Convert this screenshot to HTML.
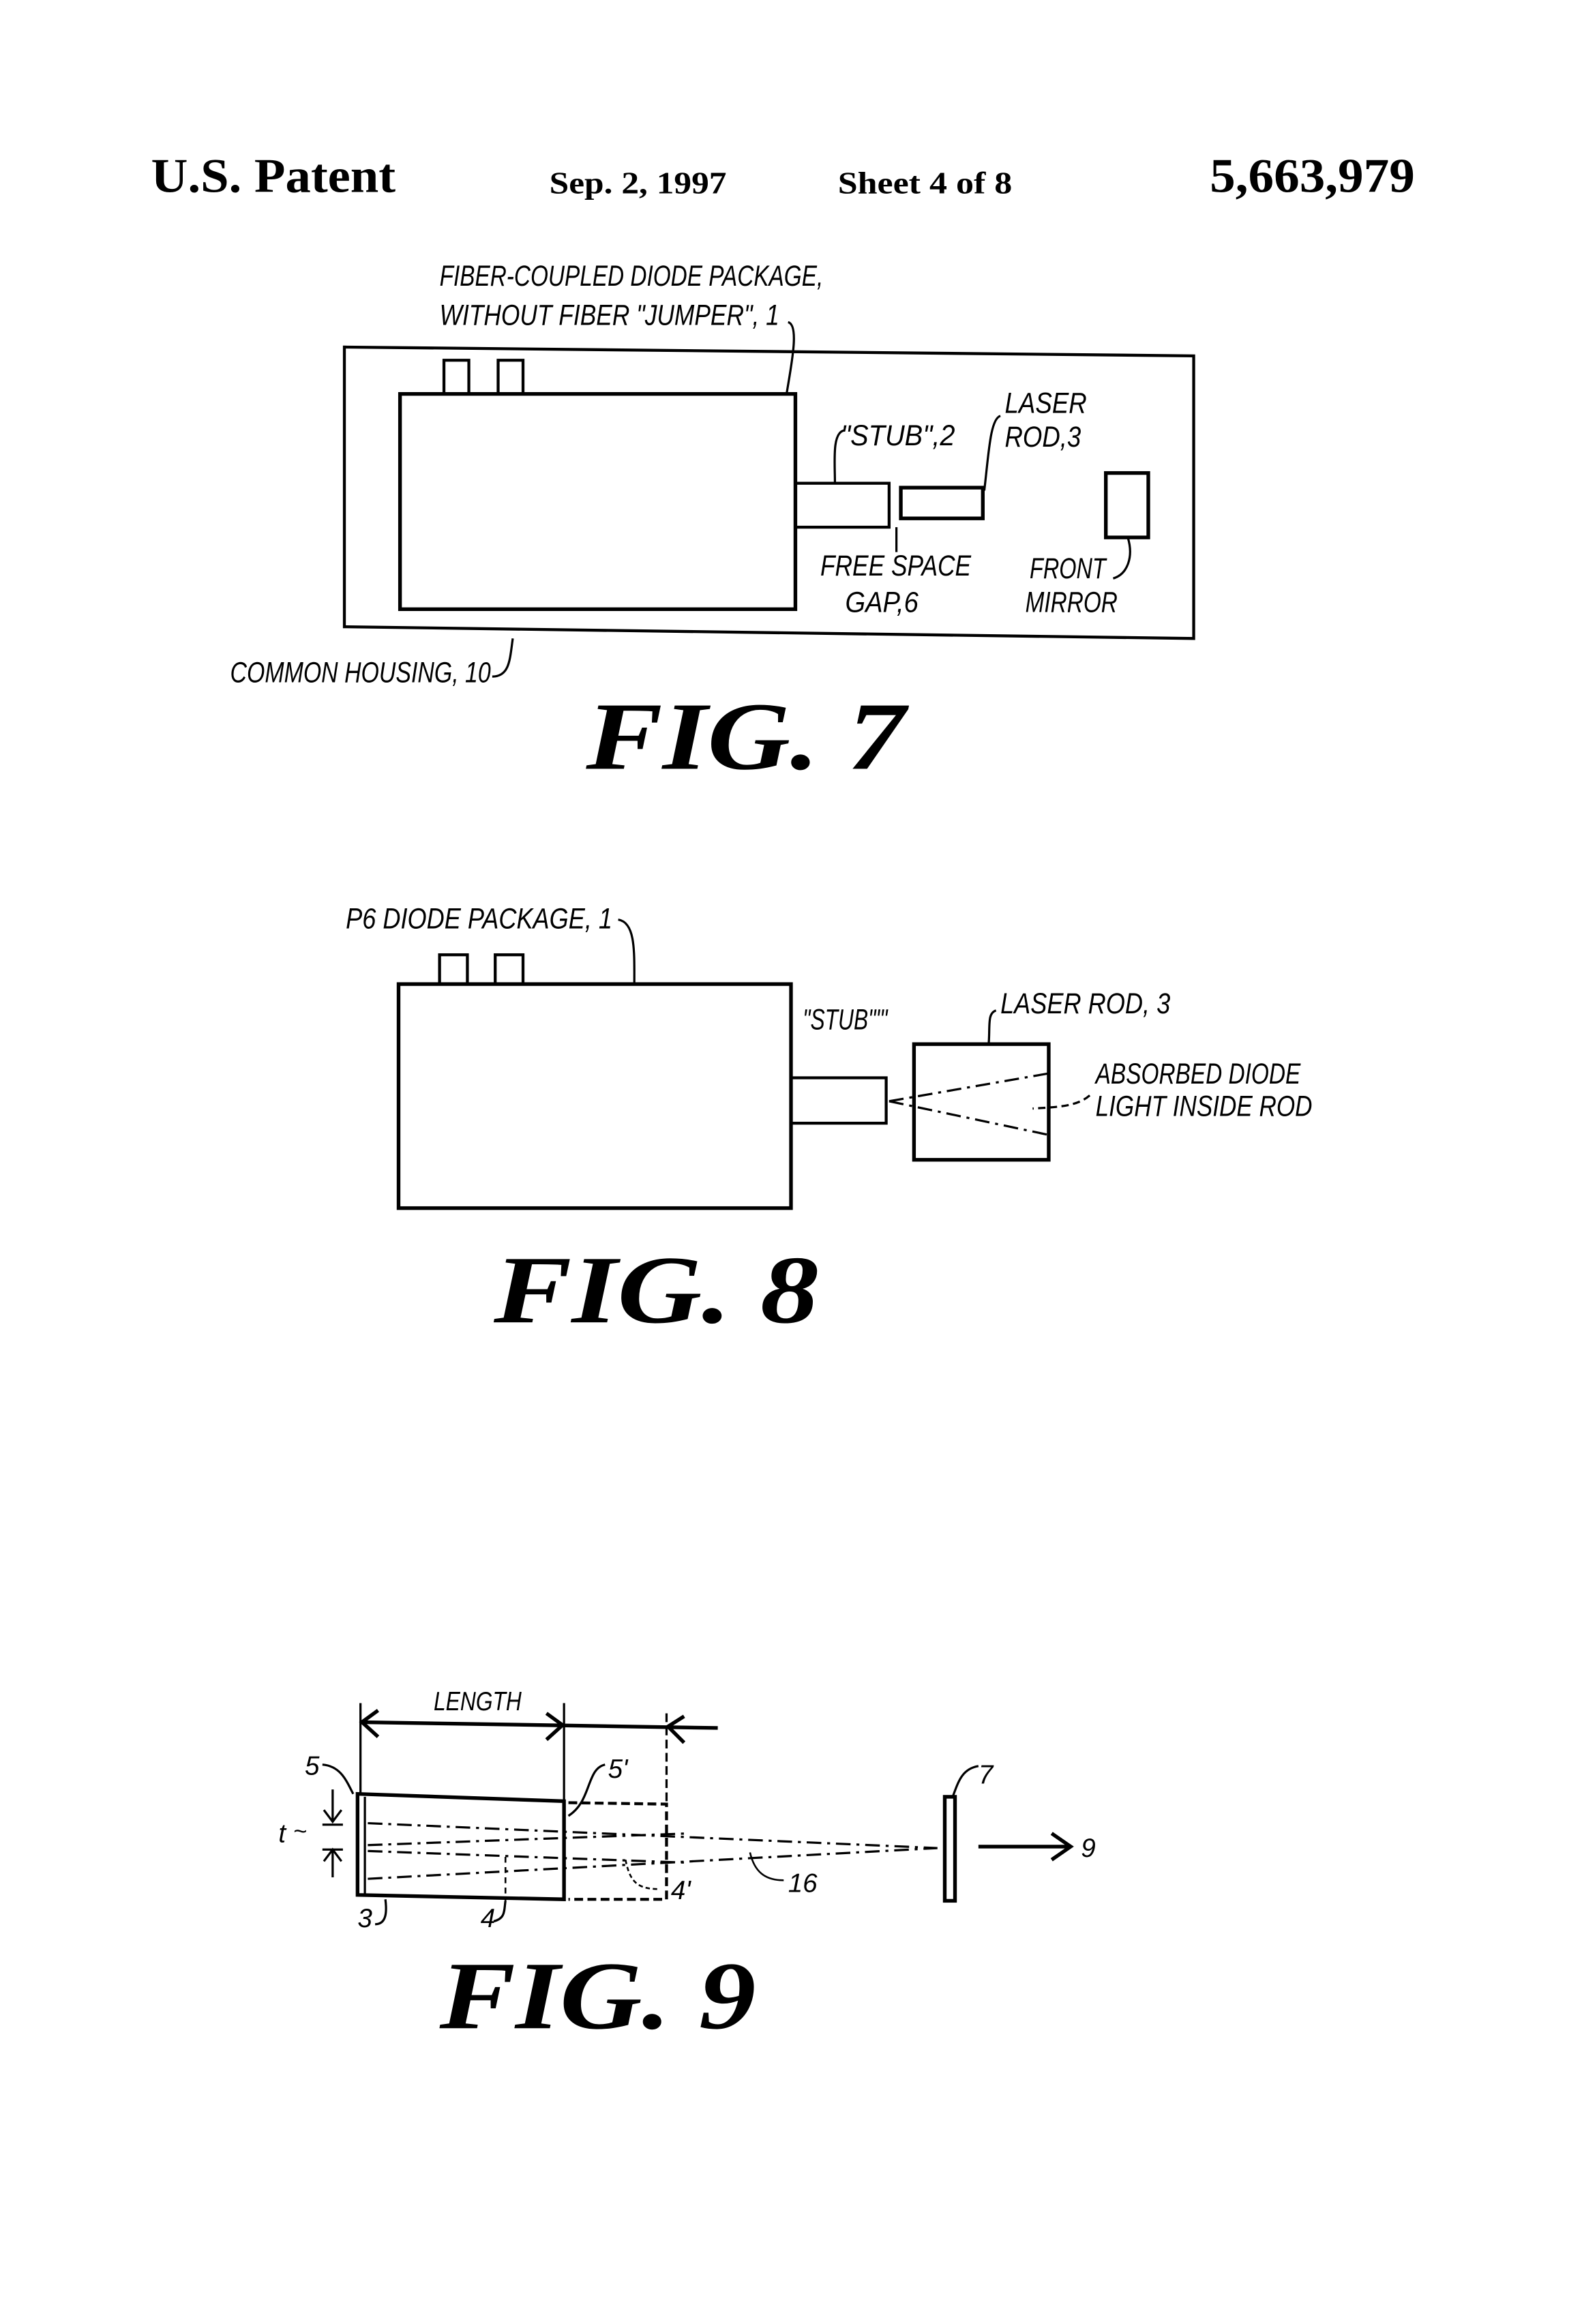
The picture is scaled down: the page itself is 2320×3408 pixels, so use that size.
<!DOCTYPE html>
<html><head><meta charset="utf-8"><style>html,body{margin:0;padding:0;background:#fff}svg{display:block}</style></head>
<body>
<svg width="2320" height="3408" viewBox="0 0 1080 1587" xmlns="http://www.w3.org/2000/svg">
<rect width="1080" height="1587" fill="#fff"/>
<g font-family="Liberation Serif, serif" font-weight="bold" fill="#000">
<text x="103" y="131" font-size="33" textLength="167" lengthAdjust="spacingAndGlyphs">U.S. Patent</text>
<text x="375" y="132" font-size="21" textLength="121" lengthAdjust="spacingAndGlyphs">Sep. 2, 1997</text>
<text x="572" y="132" font-size="21" textLength="119" lengthAdjust="spacingAndGlyphs">Sheet 4 of 8</text>
<text x="826" y="131" font-size="33" textLength="140" lengthAdjust="spacingAndGlyphs">5,663,979</text>
</g>
<g fill="none" stroke="#000" stroke-width="2">
<!-- FIG 7 -->
<path d="M235,237 L815,243 L815,436 L235,428 Z"/>
<rect x="303" y="246" width="17" height="23"/>
<rect x="340" y="246" width="17" height="23"/>
<rect x="273" y="269" width="270" height="147" stroke-width="2.5"/>
<rect x="543" y="330" width="64" height="30"/>
<rect x="615" y="333" width="56" height="21" stroke-width="2.5"/>
<rect x="755" y="323" width="29" height="44" stroke-width="2.5"/>
<path d="M538,220 C546,222 540,250 537,269" stroke-width="1.5"/>
<path d="M683,284 C676,286 675,310 672,335" stroke-width="1.5"/>
<path d="M576,294 C568,296 570,315 570,330" stroke-width="1.5"/>
<path d="M612,360 L612,377" stroke-width="1.5"/>
<path d="M770,367 C774,380 770,392 760,395" stroke-width="1.5"/>
<path d="M336,462 C348,462 348,450 350,436" stroke-width="1.5"/>
<!-- FIG 8 -->
<rect x="300" y="652" width="19" height="20"/>
<rect x="338" y="652" width="19" height="20"/>
<rect x="272" y="672" width="268" height="153" stroke-width="2.5"/>
<rect x="540" y="736" width="65" height="31"/>
<rect x="624" y="713" width="92" height="79" stroke-width="2.5"/>
<path d="M422,628 C434,630 433,650 433,673" stroke-width="1.5"/>
<path d="M680,690 C674,692 676,700 675,713" stroke-width="1.5"/>
<path d="M607,752 L716,733 M607,752 L716,775" stroke-width="1.5" stroke-dasharray="10,4,2,4"/>
<path d="M744,748 C735,756 720,756 705,757" stroke-width="1.5" stroke-dasharray="5,3"/>
<!-- FIG 9 -->
<path d="M246,1163 L246,1226 M385,1163 L385,1230" stroke-width="1.5"/>
<path d="M455,1170 L455,1232" stroke-width="1.5" stroke-dasharray="6,3"/>
<path d="M246,1176 L490,1180" stroke-width="2.5"/>
<path d="M258,1168 L247,1176 L258,1186 M373,1170 L384,1178 L373,1188 M467,1172 L456,1179 L467,1190" stroke-width="2.5"/>
<path d="M244,1225 L385,1230 L385,1297 L244,1294 Z" stroke-width="2.5"/>
<path d="M249,1227 L249,1295" stroke-width="1.5"/>
<path d="M388,1231 L455,1232 L455,1297 L388,1297" stroke-width="2" stroke-dasharray="6,3"/>
<path d="M251,1245 L640,1262 M251,1283 L640,1262 M251,1260 L470,1252 M251,1264 L470,1272" stroke-width="1.5" stroke-dasharray="10,4,2,4"/>
<path d="M345,1268 L345,1298" stroke-width="1.2" stroke-dasharray="4,3"/>
<rect x="645" y="1227" width="7" height="71" stroke-width="2.5"/>
<path d="M668,1261 L730,1261 M718,1252 L731,1261 L718,1270" stroke-width="2.5"/>
<path d="M227,1222 L227,1243 M221,1236 L227,1244 L233,1236 M220,1246 L234,1246 M220,1263 L234,1263 M227,1282 L227,1264 M221,1271 L227,1263 L233,1271" stroke-width="1.5"/>
<path d="M220,1205 C232,1206 236,1215 241,1225" stroke-width="1.5"/>
<path d="M413,1205 C400,1208 404,1230 388,1240" stroke-width="1.5"/>
<path d="M668,1206 C656,1208 654,1218 650,1228" stroke-width="1.5"/>
<path d="M256,1314 C264,1314 264,1305 263,1297" stroke-width="1.5"/>
<path d="M337,1312 C345,1310 344,1305 345,1298" stroke-width="1.5"/>
<path d="M427,1270 C430,1285 435,1290 450,1290" stroke-width="1.2" stroke-dasharray="3,2"/>
<path d="M512,1265 C515,1278 522,1284 535,1284" stroke-width="1.2"/>
</g>
<g font-family="Liberation Sans, sans-serif" font-style="italic" fill="#000" font-size="20">
<text x="300" y="195" textLength="262" lengthAdjust="spacingAndGlyphs">FIBER-COUPLED DIODE PACKAGE,</text>
<text x="300" y="222" textLength="232" lengthAdjust="spacingAndGlyphs">WITHOUT FIBER "JUMPER", 1</text>
<text x="686" y="282" textLength="56" lengthAdjust="spacingAndGlyphs">LASER</text>
<text x="686" y="305" textLength="52" lengthAdjust="spacingAndGlyphs">ROD,3</text>
<text x="574" y="304" textLength="78" lengthAdjust="spacingAndGlyphs">"STUB",2</text>
<text x="560" y="393" textLength="103" lengthAdjust="spacingAndGlyphs">FREE SPACE</text>
<text x="577" y="418" textLength="50" lengthAdjust="spacingAndGlyphs">GAP,6</text>
<text x="703" y="395" textLength="52" lengthAdjust="spacingAndGlyphs">FRONT</text>
<text x="700" y="418" textLength="63" lengthAdjust="spacingAndGlyphs">MIRROR</text>
<text x="157" y="466" textLength="178" lengthAdjust="spacingAndGlyphs">COMMON HOUSING, 10</text>
<text x="236" y="634" textLength="182" lengthAdjust="spacingAndGlyphs">P6 DIODE PACKAGE, 1</text>
<text x="548" y="703" textLength="58" lengthAdjust="spacingAndGlyphs">"STUB""'</text>
<text x="683" y="692" textLength="116" lengthAdjust="spacingAndGlyphs">LASER ROD, 3</text>
<text x="748" y="740" textLength="140" lengthAdjust="spacingAndGlyphs">ABSORBED DIODE</text>
<text x="748" y="762" textLength="148" lengthAdjust="spacingAndGlyphs">LIGHT INSIDE ROD</text>
<text x="296" y="1168" font-size="18" textLength="60" lengthAdjust="spacingAndGlyphs">LENGTH</text>
<text x="208" y="1212" font-size="18">5</text>
<text x="415" y="1214" font-size="18">5'</text>
<text x="190" y="1258" font-size="18">t</text>
<text x="200" y="1256" font-size="16">~</text>
<text x="244" y="1316" font-size="18">3</text>
<text x="328" y="1316" font-size="18">4</text>
<text x="458" y="1297" font-size="18">4'</text>
<text x="538" y="1292" font-size="18">16</text>
<text x="668" y="1218" font-size="18">7</text>
<text x="738" y="1268" font-size="18">9</text>
</g>
<g font-family="Liberation Serif, serif" font-style="italic" font-weight="bold" fill="#000" font-size="66">
<text x="400" y="525" textLength="218" lengthAdjust="spacingAndGlyphs">FIG. 7</text>
<text x="337" y="903" textLength="222" lengthAdjust="spacingAndGlyphs">FIG. 8</text>
<text x="300" y="1385" textLength="216" lengthAdjust="spacingAndGlyphs">FIG. 9</text>
</g>
</svg>
</body></html>
